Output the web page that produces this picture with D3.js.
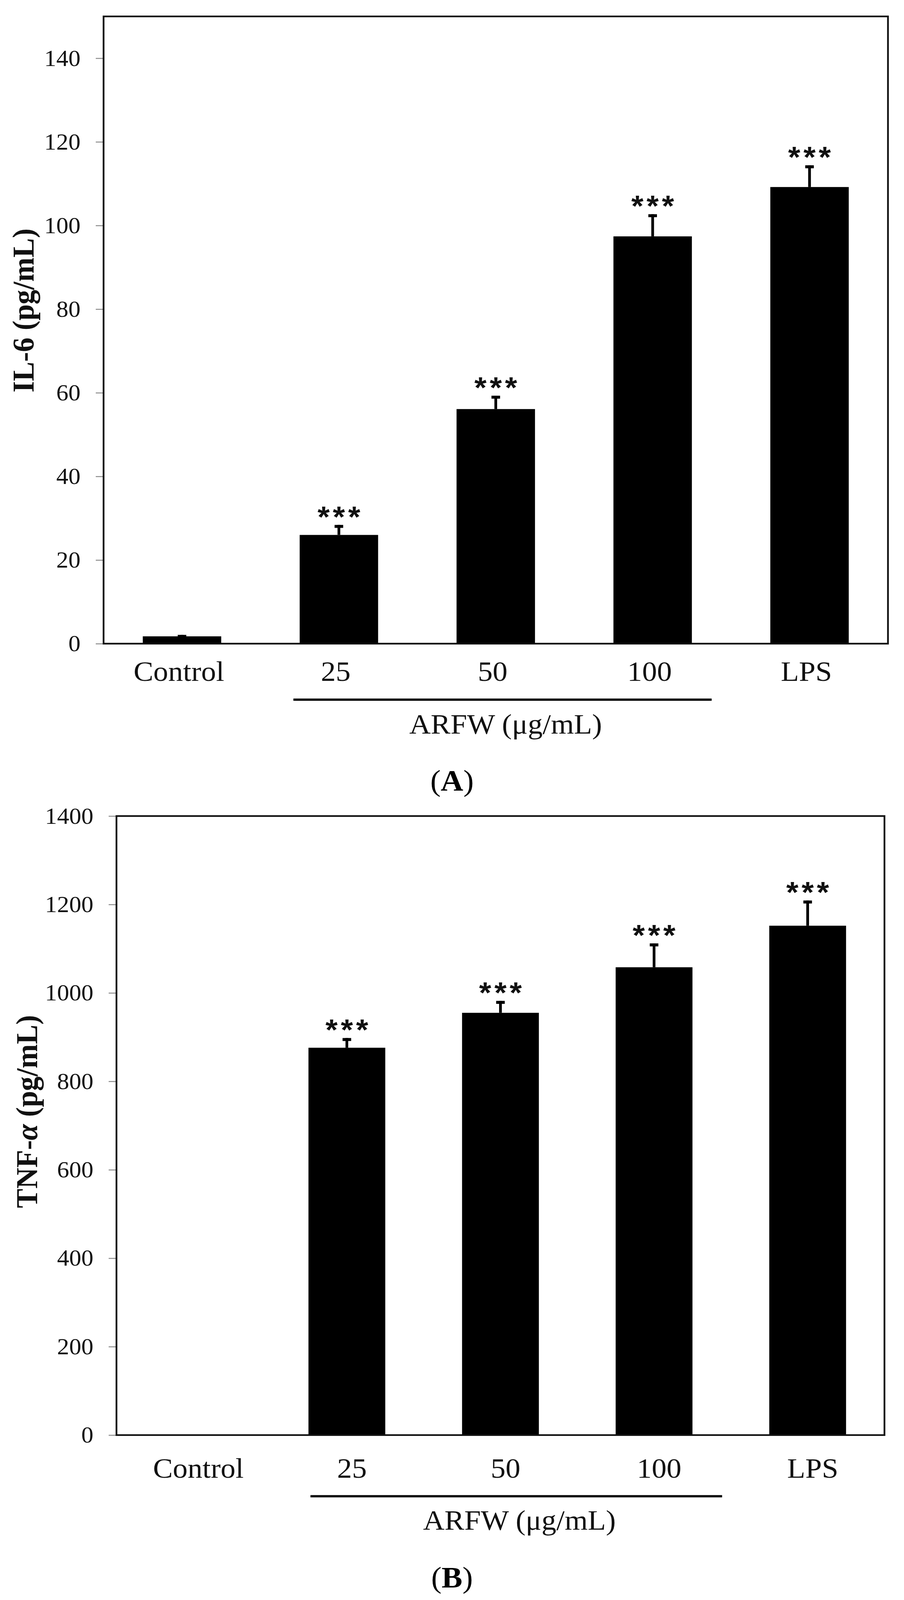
<!DOCTYPE html>
<html>
<head>
<meta charset="utf-8">
<script src="https://cdn.jsdelivr.net/npm/d3@7"></script>
<style>
  html, body { margin: 0; padding: 0; background: #fff; overflow: hidden; }
  svg { display: block; }
</style>
</head>
<body>
<div id="chart"></div>
<script>
// values
var categories = ["Control", "25", "50", "100", "LPS"];

var il6Means  = [1.75, 26.0, 56.1, 97.4, 109.2];
var il6Errors = [0.35, 2.4, 3.2, 5.3, 5.2];
var il6Stars  = ["", "***", "***", "***", "***"];
var il6Ticks  = [0, 20, 40, 60, 80, 100, 120, 140];

var tnfMeans  = [0, 876, 955, 1058, 1152];
var tnfErrors = [0, 22, 27, 54, 57];
var tnfStars  = ["", "***", "***", "***", "***"];
var tnfTicks  = [0, 200, 400, 600, 800, 1000, 1200, 1400];

var W = 2313, H = 4288;
var serif = "'Liberation Serif', 'Times New Roman', serif";

// drawn in 2313x4288 units, stretched to whatever the window really shows
var svg = d3.select("#chart").append("svg")
    .attr("width", window.innerWidth || W).attr("height", window.innerHeight || H)
    .attr("viewBox", "0 0 " + W + " " + H).attr("preserveAspectRatio", "none");
svg.append("rect").attr("width", W).attr("height", H).attr("fill", "#fff");

function draw_panel(p)
{
    var g = svg.append("g");
    var x = d3.scaleBand().domain(categories).range([p.left, p.right]).paddingInner(0.5).paddingOuter(0.25);
    var y = d3.scaleLinear().domain([0, p.max]).range([p.bottom, p.top]);
    var rows = categories.map(function(c, i){ return {c:c, v:p.means[i], e:p.errors[i], s:p.stars[i]}; });

    // y axis
    var ya = g.append("g").attr("transform", "translate(" + p.left + ",0)")
        .call(d3.axisLeft(y).tickValues(p.ticks).tickFormat(d3.format("d")).tickSize(20).tickPadding(39));
    ya.select(".domain").remove();
    ya.selectAll(".tick line").attr("stroke", "#888").attr("stroke-width", 2.5);
    ya.selectAll(".tick text").attr("font-family", serif).attr("font-size", 62).attr("fill", "#111");

    // x labels
    var xa = g.append("g").attr("transform", "translate(0," + p.bottom + ")")
        .call(d3.axisBottom(x).tickSize(0));
    xa.select(".domain").remove();
    xa.selectAll(".tick text").attr("font-family", serif).attr("font-size", 76).attr("fill", "#111")
        .attr("dy", null).attr("y", p.labelY).attr("dx", p.labelDx);

    // bars
    g.selectAll("rect.bar").data(rows.filter(function(d){ return d.v > 0; })).enter().append("rect")
        .attr("class", "bar")
        .attr("x", function(d){ return x(d.c); }).attr("width", x.bandwidth())
        .attr("y", function(d){ return y(d.v); })
        .attr("height", function(d){ return y(0) - y(d.v); })
        .attr("fill", "#000");

    // error bars
    var eb = rows.filter(function(d){ return d.e > 0; });
    g.selectAll("line.err").data(eb).enter().append("line")
        .attr("x1", function(d){ return x(d.c) + x.bandwidth()/2; })
        .attr("x2", function(d){ return x(d.c) + x.bandwidth()/2; })
        .attr("y1", function(d){ return y(d.v); })
        .attr("y2", function(d){ return y(d.v + d.e); })
        .attr("stroke", "#000").attr("stroke-width", 7);
    g.selectAll("rect.cap").data(eb).enter().append("rect")
        .attr("x", function(d){ return x(d.c) + x.bandwidth()/2 - 11; })
        .attr("y", function(d){ return y(d.v + d.e); })
        .attr("width", 22).attr("height", 8).attr("fill", "#000");

    // significance stars
    g.selectAll("text.star").data(rows.filter(function(d){ return d.s; })).enter().append("text")
        .attr("x", function(d){ return x(d.c) + x.bandwidth()/2 + 4; })
        .attr("y", function(d){ return y(d.v + d.e) + 5; })
        .attr("text-anchor", "middle")
        .attr("font-family", "'Liberation Sans', Arial, sans-serif").attr("font-weight", "bold")
        .attr("font-size", 80).attr("letter-spacing", 8).attr("fill", "#111")
        .text(function(d){ return d.s; });

    // frame
    g.append("rect").attr("x", p.left).attr("y", p.top)
        .attr("width", p.right - p.left).attr("height", p.bottom - p.top)
        .attr("fill", "none").attr("stroke", "#111").attr("stroke-width", 4.5);

    // y title
    var yt = g.append("text")
        .attr("transform", "translate(" + p.titleX + "," + p.titleY + ") rotate(-90)")
        .attr("text-anchor", "middle").attr("font-family", serif).attr("font-weight", "bold")
        .attr("font-size", 78).attr("fill", "#111");
    p.title.forEach(function(t){
        yt.append("tspan").attr("font-style", t.italic ? "italic" : null).text(t.s);
    });

    // ARFW bracket line and label
    var step = x.step(), c1 = x("25") + x.bandwidth()/2, c2 = x("100") + x.bandwidth()/2;
    var lx1 = c1 + p.lineFrom*step, lx2 = c2 + p.lineTo*step;
    g.append("line").attr("x1", lx1).attr("x2", lx2).attr("y1", p.lineY).attr("y2", p.lineY)
        .attr("stroke", "#000").attr("stroke-width", 6);
    g.append("text").attr("x", (lx1 + lx2)/2 + 8).attr("y", p.groupY)
        .attr("text-anchor", "middle").attr("font-family", serif).attr("font-size", 76).attr("fill", "#111")
        .text("ARFW (\u03bcg/mL)");

    // panel letter
    var pl = g.append("text").attr("x", W/2).attr("y", p.letterY)
        .attr("text-anchor", "middle").attr("font-family", serif).attr("font-size", 80).attr("fill", "#000");
    pl.append("tspan").text("(");
    pl.append("tspan").attr("font-weight", "bold").text(p.letter);
    pl.append("tspan").text(")");
}

draw_panel({
    means: il6Means, errors: il6Errors, stars: il6Stars, ticks: il6Ticks, max: 150,
    left: 265, right: 2272, top: 44, bottom: 1725,
    labelY: 100, labelDx: -8,
    title: [{s: "IL-6 (pg/mL)"}], titleX: 86, titleY: 832,
    lineFrom: -0.29, lineTo: 0.376, lineY: 1875, groupY: 1966,
    letter: "A", letterY: 2119
});

draw_panel({
    means: tnfMeans, errors: tnfErrors, stars: tnfStars, ticks: tnfTicks, max: 1400,
    left: 298, right: 2263, top: 2187, bottom: 3846,
    labelY: 114, labelDx: 13,
    title: [{s: "TNF-"}, {s: "\u03b1", italic: true}, {s: " (pg/mL)"}], titleX: 95, titleY: 2979,
    lineFrom: -0.237, lineTo: 0.443, lineY: 4010, groupY: 4100,
    letter: "B", letterY: 4254
});
</script>
</body>
</html>
